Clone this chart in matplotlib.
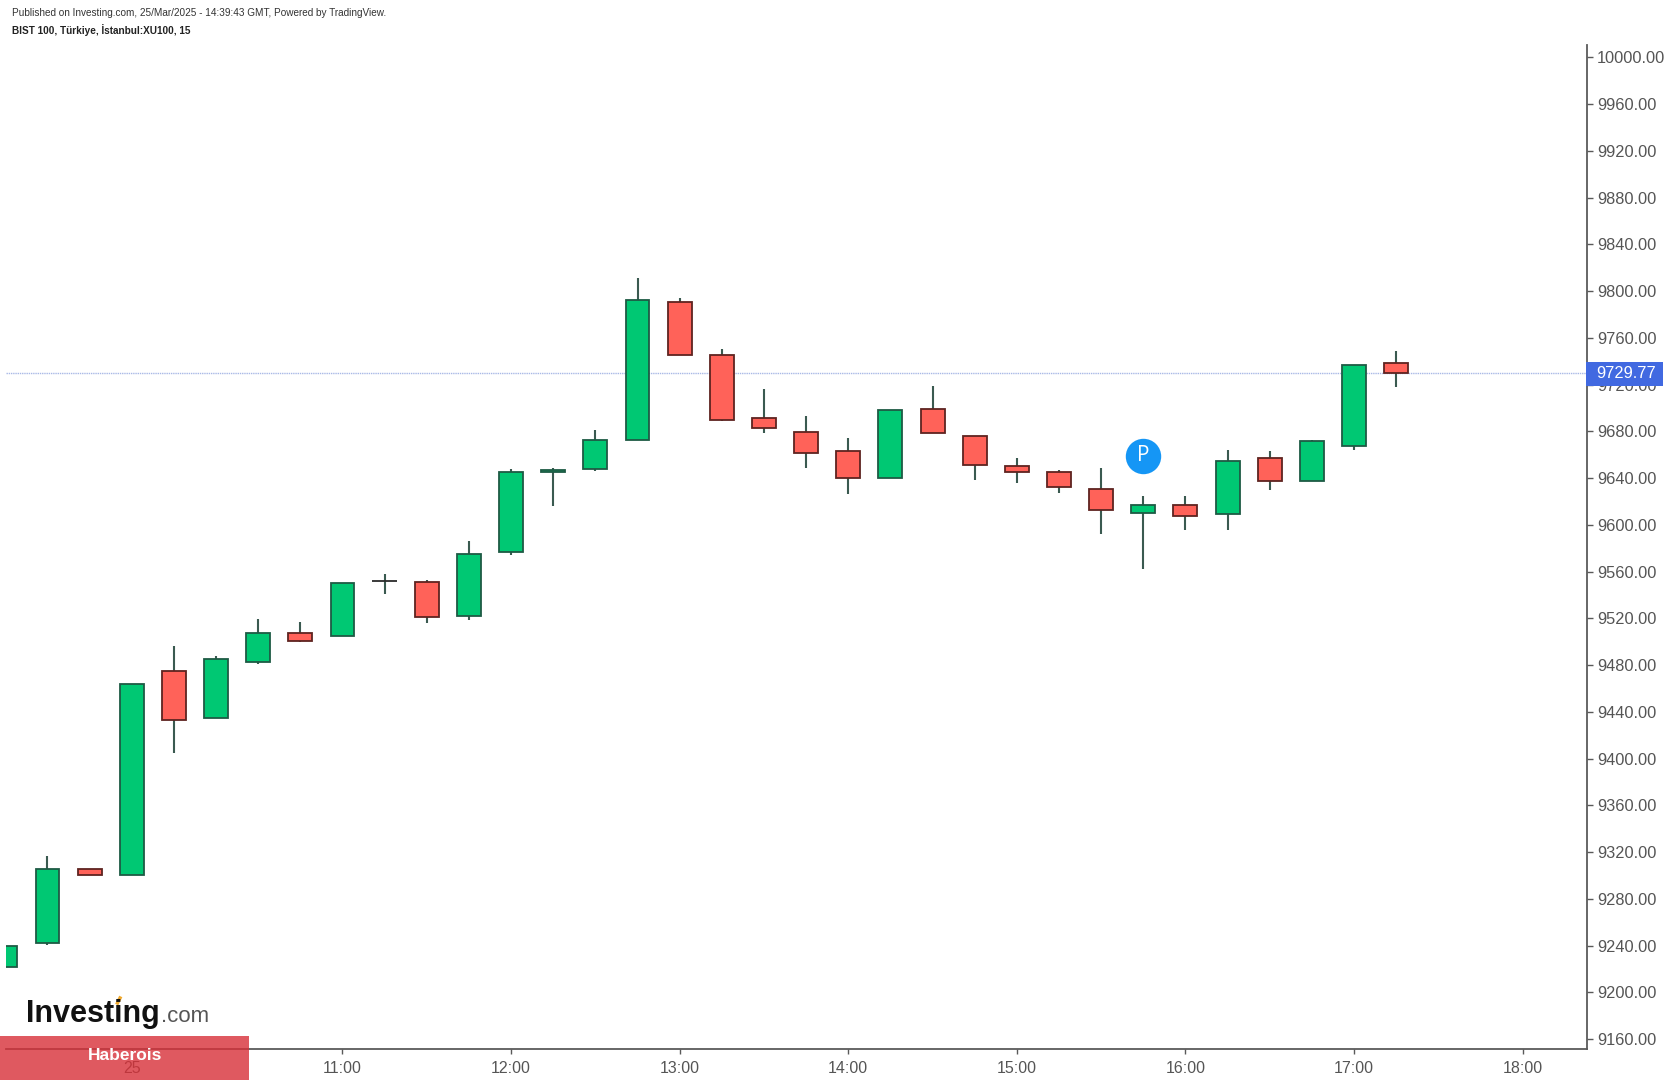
import matplotlib
matplotlib.use("Agg")
import matplotlib.pyplot as plt
from matplotlib.patches import Rectangle
from matplotlib.lines import Line2D

plt.rcParams['font.family'] = ['Liberation Sans', 'DejaVu Sans']

times = ["09:00","09:15","09:30","09:45","10:00","10:15","10:30","10:45","11:00","11:15","11:30","11:45",
         "12:00","12:15","12:30","12:45","13:00","13:15","13:30","13:45","14:00","14:15","14:30","14:45",
         "15:00","15:15","15:30","15:45","16:00","16:15","16:30","16:45","17:00","17:15"]
opens = [9222,9242,9305.5,9300,9474.8,9434.5,9483,9507.7,9505,9551.5,9550.7,9522,
         9577,9645,9647.7,9672.4,9790.5,9745.6,9691.6,9679.8,9663.3,9640.4,9699,9676,
         9650.5,9645,9631,9610,9616.6,9609,9656.9,9637.6,9667,9738.3]
closes = [9239.6,9305.5,9300,9463.8,9432.7,9484.9,9507.7,9501,9549.8,9551.5,9521.4,9575.4,
          9645,9646.8,9672.4,9792.3,9745.6,9689.8,9682.5,9661.4,9640.4,9698,9678.8,9651.4,
          9645,9632,9612.9,9616.6,9607.5,9655,9637.6,9671.5,9736.5,9730]
highs = [9239.6,9316.5,9305.5,9463.8,9496.7,9487.6,9519.6,9516.9,9549.8,9558,9552.6,9586.4,
         9647.7,9648.6,9680.7,9811.5,9794,9750,9716.4,9693.5,9674.3,9698.5,9719,9676,
         9656.9,9647,9648.6,9624.9,9624.9,9664,9663.3,9672.5,9736.5,9748.4]
lows = [9222,9240.6,9300,9300,9405,9434.5,9481,9499.5,9505,9540.7,9516,9518.7,
        9574.5,9615.7,9646,9672.4,9745,9689,9678.8,9648.6,9626.7,9640.4,9678.8,9638.6,
        9635.8,9627.6,9592,9562.6,9595.6,9595.6,9629.4,9637.6,9664,9718]
price_ticks = list(range(9160, 10001, 40))
time_ticks = ["09:45","11:00","12:00","13:00","14:00","15:00","16:00","17:00","18:00"]
time_labels = ["25","11:00","12:00","13:00","14:00","15:00","16:00","17:00","18:00"]
last_price = 9729.77
pin_time = "15:45"
pin_price = 9659

UP, DOWN, WICK = "#00C873", "#FF6259", "#3A5A50"
AXIS, TXT = "#5a5a5a", "#555555"

def hours(t):
    h, m = t.split(":")
    return int(h) + int(m) / 60

W, H = 1677, 1080
fig = plt.figure(figsize=(W / 100, H / 100), dpi=100, facecolor="white")
L, R, T, B = 6, 1587, 45, 1049
ax = fig.add_axes([L / W, 1 - B / H, (R - L) / W, (B - T) / H])
ax.set_xlim(9.004, 18.382)
ax.set_ylim(9151.5, 10010.5)

xs = [hours(t) for t in times]
for x, o, c, hi, lo in zip(xs, opens, closes, highs, lows):
    ax.vlines(x, lo, hi, color=WICK, lw=1.5, zorder=2)
    if c == o:
        ax.hlines(c, x - 0.073, x + 0.073, color="#2b2b2b", lw=1.3, zorder=3)
        continue
    col = UP if c >= o else DOWN
    edge = "#1E5A44" if c >= o else "#5E2320"
    ax.bar(x, abs(c - o), bottom=min(o, c), width=0.142, color=col, edgecolor=edge, lw=1.3, zorder=3)

ax.axhline(last_price, color="#A9B9E6", lw=1, ls=(0, (1, 0.6)), zorder=1)

ax.plot([hours(pin_time)], [pin_price], "o", ms=25.5, color="#1596F5", mec="none", zorder=4)
ax.text(hours(pin_time), pin_price, "P", color="white", ha="center", va="center", fontsize=15, zorder=5,
        family=["Open Sans", "DejaVu Sans"])

for s in ("top", "left"):
    ax.spines[s].set_visible(False)
for s in ("right", "bottom"):
    ax.spines[s].set_color(AXIS)
    ax.spines[s].set_linewidth(1.3)
ax.yaxis.tick_right()
ax.set_yticks(price_ticks)
ax.set_yticklabels([f"{v:.2f}" for v in price_ticks], fontsize=11.8, color=TXT)
ax.tick_params(axis="y", length=4.3, width=1, color=AXIS, pad=3)
ax.set_xticks([hours(t) for t in time_ticks])
ax.set_xticklabels(time_labels, fontsize=11.5, color=TXT)
ax.tick_params(axis="x", length=3.5, width=1, color=AXIS, pad=5)

# last price label
fig.add_artist(Rectangle((1586 / W, 1 - 386 / H), 77 / W, 24 / H, transform=fig.transFigure,
                         color="#4169E1", lw=0, zorder=3))
fig.text(1626.5 / W, 1 - 374 / H, f"{last_price:.2f}", color="white", fontsize=11.8, ha="center", va="center", zorder=4)

# header
fig.text(12 / W, 1 - 13 / H, "Published on Investing.com, 25/Mar/2025 - 14:39:43 GMT, Powered by TradingView.",
         fontsize=7.2, color="#333333", va="center")
fig.text(12 / W, 1 - 30 / H, "BIST 100, Türkiye, İstanbul:XU100, 15", fontsize=7.2, fontweight="bold",
         color="#222222", va="center")

# logo
fig.text(26 / W, 1 - 1022 / H, "Investing", fontsize=22, fontweight="bold", color="#111111", va="baseline")
fig.text(161 / W, 1 - 1022 / H, ".com", fontsize=16, color="#555555", va="baseline")
fig.add_artist(Line2D([117.5 / W, 120 / W], [1 - 1003 / H, 1 - 998 / H], transform=fig.transFigure,
                      color="#F0A92E", lw=2.5, zorder=3))

# banner
fig.add_artist(Rectangle((0, 1 - 1080 / H), 249 / W, 44 / H, transform=fig.transFigure,
                         facecolor="#D83038", alpha=0.8, lw=0, zorder=3))
fig.text(125 / W, 1 - 1056 / H, "Haberois", color="white", fontsize=12.5, fontweight="bold",
         ha="center", va="center", zorder=4)

fig.savefig("out.png", dpi=100)
